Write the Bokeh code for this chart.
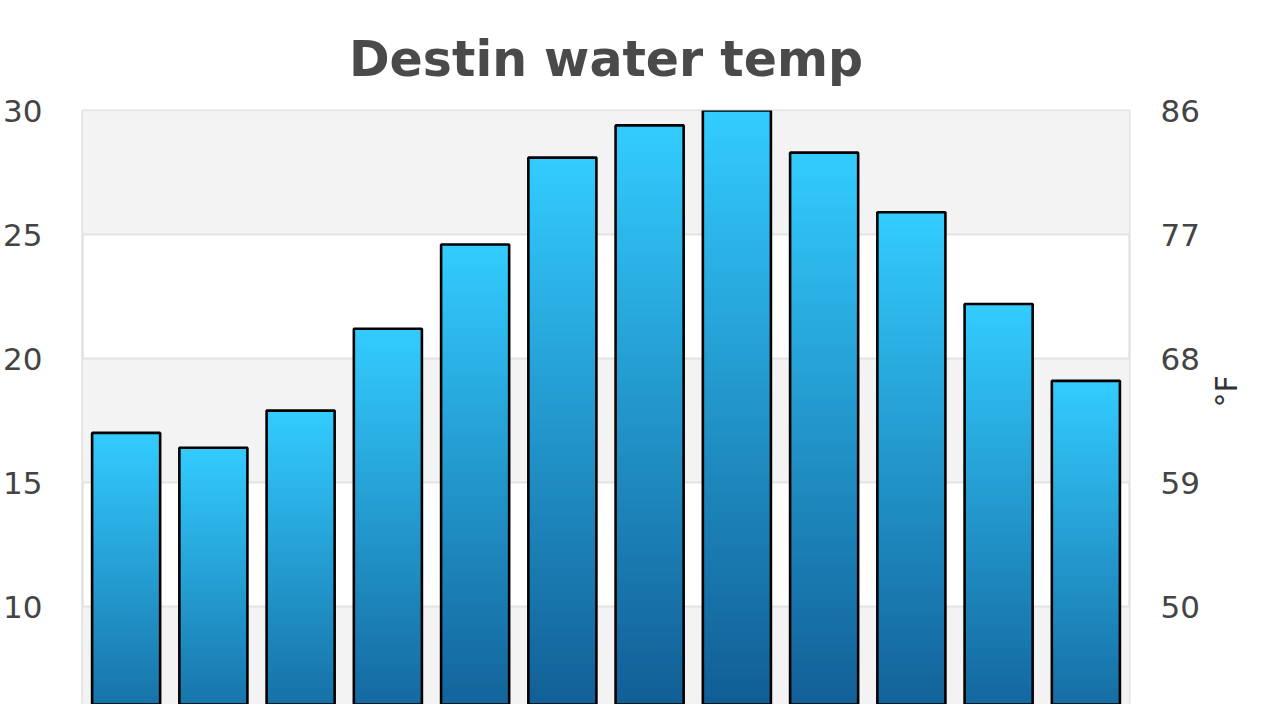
import math
from bokeh.plotting import figure
from bokeh.models import Range1d, LinearAxis, FixedTicker, CustomJSTickFormatter
from bokeh.embed import file_html
from bokeh.resources import INLINE

months = ["Jan", "Feb", "Mar", "Apr", "May", "Jun", "Jul", "Aug", "Sep", "Oct", "Nov", "Dec"]
water_c = [17.0, 16.4, 17.9, 21.2, 24.6, 28.1, 29.4, 30.0, 28.3, 25.9, 22.2, 19.1]
c_ticks = [5, 10, 15, 20, 25, 30]
unit_text = "°F"

TOP_RGB = (51, 204, 255)
BOT_RGB = (8, 66, 122)
N_SEG = 80

p = figure(width=1264, height=704, x_range=months, y_range=Range1d(6.05, 30),
           output_backend="svg", toolbar_location=None,
           min_border_left=82, min_border_right=134, min_border_top=110, min_border_bottom=0)
p.xaxis.visible = False
p.background_fill_color = "white"
p.border_fill_color = "white"
p.outline_line_color = "#dcdcdc"
p.outline_line_width = 2

# gradient bars built from the data
xs, bots, tops, cols = [], [], [], []
for m, v in zip(months, water_c):
    for k in range(N_SEG):
        b = v * k / N_SEG
        t = v * (k + 1) / N_SEG
        f = (k + 0.5) / N_SEG
        rgb = tuple(int(round(BOT_RGB[j] + (TOP_RGB[j] - BOT_RGB[j]) * f)) for j in range(3))
        xs.append(m)
        bots.append(b)
        tops.append(min(t + v * 0.006, v))
        cols.append("#%02x%02x%02x" % rgb)
p.vbar(x=xs, bottom=bots, top=tops, width=0.78, fill_color=cols, line_color=None)
p.vbar(x=months, top=water_c, bottom=0, width=0.78, fill_color=None, fill_alpha=0,
       line_color="black", line_width=2.6)

p.xgrid.grid_line_color = None
p.ygrid.ticker = FixedTicker(ticks=c_ticks)
p.ygrid.grid_line_color = "#e3e3e3"
p.ygrid.grid_line_width = 2
p.ygrid.band_fill_color = "#f3f3f3"
p.ygrid.band_fill_alpha = 1.0

lab_font = "DejaVu Sans"
ya = p.yaxis[0]
ya.ticker = FixedTicker(ticks=c_ticks)
ya.axis_line_color = None
ya.major_tick_line_color = None
ya.minor_tick_line_color = None
ya.major_label_text_font = lab_font
ya.major_label_text_font_size = "31px"
ya.major_label_text_color = "#444444"
ya.major_label_standoff = 34

ra = LinearAxis(ticker=FixedTicker(ticks=c_ticks),
                formatter=CustomJSTickFormatter(code="return String(Math.round(tick*1.8+32));"))
ra.axis_line_color = None
ra.major_tick_line_color = None
ra.minor_tick_line_color = None
ra.major_label_text_font = lab_font
ra.major_label_text_font_size = "31px"
ra.major_label_text_color = "#444444"
ra.major_label_standoff = 25
ra.axis_label = unit_text
ra.axis_label_text_font = lab_font
ra.axis_label_text_font_style = "normal"
ra.axis_label_text_font_size = "30px"
ra.axis_label_text_color = "#333333"
ra.axis_label_standoff = 24
if "axis_label_orientation" in ra.properties():
    ra.axis_label_orientation = math.pi / 2
p.add_layout(ra, "right")

p.title.text = "Destin water temp"
p.title.align = "center"
p.title.text_font = "DejaVu Sans"
p.title.text_font_style = "bold"
p.title.text_font_size = "49px"
p.title.text_color = "#4a4a4a"
p.title.offset = 0
p.title.standoff = 45

open("out.html", "w").write(file_html(p, INLINE))
